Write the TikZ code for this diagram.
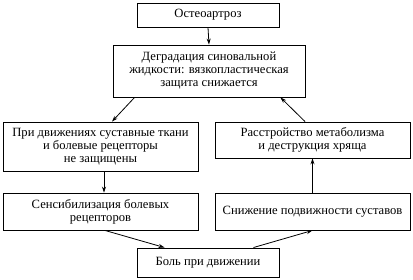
\documentclass[tikz,border=0pt]{standalone}
\usepackage{fontspec}
\setmainfont{Liberation Serif}
\usetikzlibrary{arrows.meta, calc}

\begin{document}
\begin{tikzpicture}[x=1pt, y=-1pt,
    box/.style={draw, line width=0.9pt, rectangle, inner sep=0pt, align=center,
        font=\rmfamily\fontsize{12.6}{13}\selectfont},
    arr/.style={line width=0.8pt, -{Stealth[length=6pt, width=4pt]}}]
    \useasboundingbox (0,0) rectangle (413,280);

    % top of the chain
    \node[box, minimum width=142, minimum height=24] (osteo) at (208,15) {Остеоартроз};
    \node[box, minimum width=192, minimum height=52] (degr) at (209,71)
        {Деградация синовальной\\жидкости: вязкопластическая\\защита снижается};

    % left branch
    \node[box, minimum width=195, minimum height=49] (unprot) at (100.5,146.5)
        {При движениях суставные ткани\\и болевые рецепторы\\не защищены};
    \node[box, minimum width=195, minimum height=37] (sens) at (100.5,211.5)
        {Сенсибилизация болевых\\рецепторов};

    % right branch
    \node[box, minimum width=195, minimum height=36] (metab) at (312.5,140)
        {Расстройство метаболизма\\и деструкция хряща};
    \node[box, minimum width=195, minimum height=37] (mobil) at (312.5,211.5)
        {Снижение подвижности суставов};

    % bottom
    \node[box, minimum width=142, minimum height=29] (pain) at (208,262.5) {Боль при движении};

    % connectors
    \draw[arr] (osteo.south) -- (degr.north);
    \draw[arr] ([xshift=22]degr.south west) -- ([xshift=11.5]unprot.north);
    \draw[arr] ([xshift=3.5]unprot.south) -- ([xshift=3.5]sens.north);
    \draw[arr] ([xshift=4.5]sens.south) -- ([xshift=28]pain.north west);
    \draw[arr] ([xshift=-26]pain.north east) -- (mobil.south);
    \draw[arr] (mobil.north) -- (metab.south);
    \draw[arr] ([xshift=-7.5]metab.north) -- ([xshift=-25]degr.south east);
\end{tikzpicture}
\end{document}
